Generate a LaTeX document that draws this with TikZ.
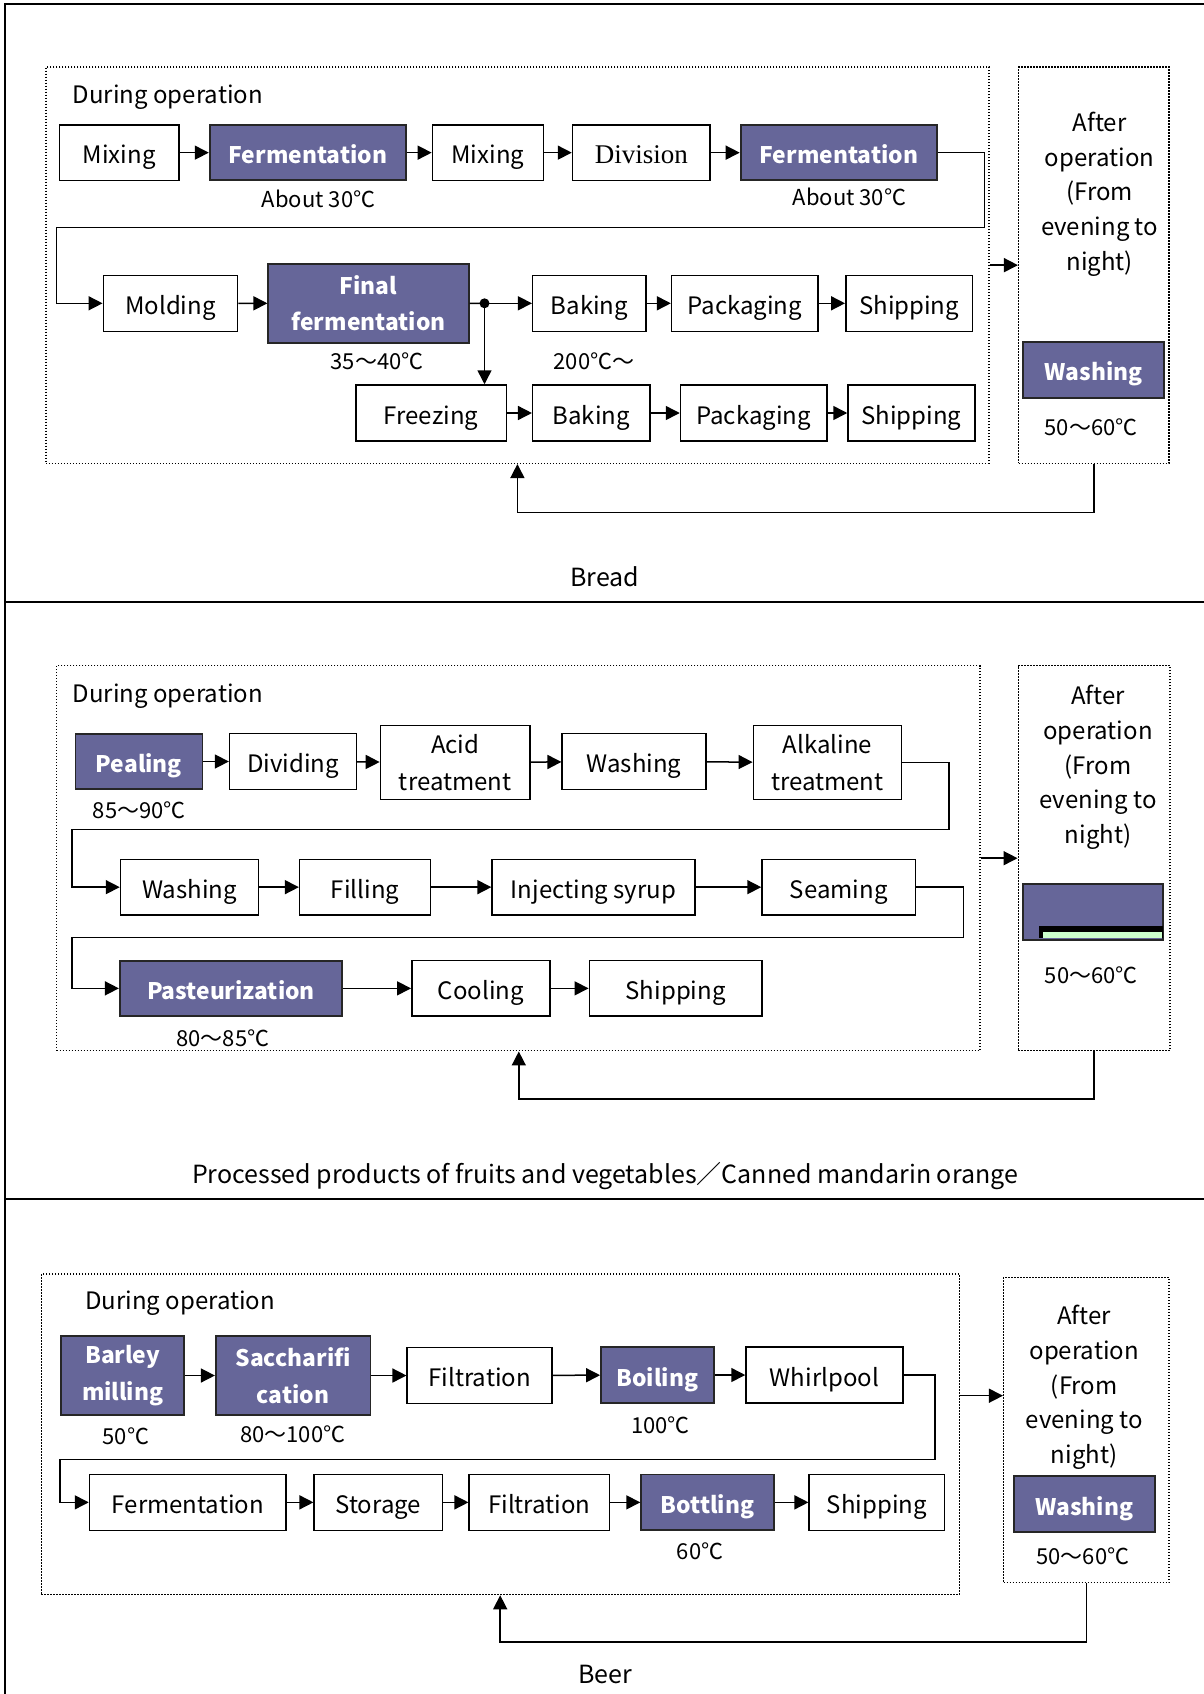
\documentclass[tikz,border=0pt]{standalone}
\usepackage{fontspec}
\setmainfont{Noto Sans CJK JP}
\newfontfamily\divfont{Liberation Serif}
\usetikzlibrary{arrows.meta}
\definecolor{hotc}{RGB}{102,102,153}
\definecolor{mint}{RGB}{204,255,204}
\newcommand{\bx}[7][]{%
  \pgfmathsetmacro\bxcx{(#3+#5)/2}%
  \pgfmathsetmacro\bxcy{(#4+#6)/2}%
  \pgfmathsetmacro\bxw{#5-#3}%
  \pgfmathsetmacro\bxh{#6-#4}%
  \node[box,one,#1,minimum width=\bxw pt,minimum height=\bxh pt] (#2) at (\bxcx,\bxcy) {#7};}
\tikzset{
  box/.style={draw=black, line width=1.5pt, inner sep=0pt, align=center, font=\fontsize{24}{36.5}\selectfont},
  one/.style={text height=22pt, text depth=0pt},
  two/.style={text height={}, text depth={}},
  hot/.style={fill=hotc, draw=black!85, line width=1.8pt, text=white, font=\bfseries\fontsize{22.8}{36.5}\selectfont},
  dotbox/.style={draw=black, line width=1.5pt, dash pattern=on 1.5pt off 1.5pt},
  lbl/.style={inner sep=0pt, font=\fontsize{22}{26}\selectfont},
  ttl/.style={inner sep=0pt, font=\fontsize{24}{28}\selectfont},
  sectitle/.style={inner sep=0pt, font=\fontsize{25}{28}\selectfont},
  afttxt/.style={inner sep=0pt, align=center, font=\fontsize{24}{34.7}\selectfont},
  arr/.style={line width=1.5pt, -{Triangle[length=14pt,width=14pt]}},
  conn/.style={line width=1.5pt},
  frame/.style={line width=2pt}
}
\begin{document}
\begin{tikzpicture}[x=1pt,y=-1pt]
\useasboundingbox[fill=white] (0,0) rectangle (1204,1694);
% frame
\draw[frame] (1204,4) -- (5,4) -- (5,1694);
\draw[frame] (5,602) -- (1204,602);
\draw[frame] (5,1199) -- (1204,1199);

% ================= Bread =================
\bx[dotbox]{dur1}{45.9}{67}{989}{463.3}{}
\bx[dotbox]{aft1}{1018.7}{67}{1169}{463.3}{}
\node[ttl,anchor=west] (do1) at (72.7,97) {During operation};
\bx{m1}{59.3}{125}{179.1}{180.3}{Mixing}
\bx[hot]{fe1}{209.7}{125}{406}{180.3}{Fermentation}
\bx{m2}{432.4}{125}{543.4}{180.3}{Mixing}
\bx{dv}{572.5}{125}{710.2}{180.3}{\divfont\fontsize{27}{30}\selectfont Division}
\bx[hot]{fe2}{740.6}{125}{937.1}{180.3}{Fermentation}
\bx{mo}{103.3}{275.3}{237.6}{331.3}{Molding}
\bx[hot,two]{ff}{268.3}{264}{468.8}{342.7}{Final\\fermentation}
\bx{bk1}{532.7}{275.3}{646.2}{331.3}{Baking}
\bx{pk1}{671.6}{275.3}{818}{331.3}{Packaging}
\bx{sh1}{845.8}{275.3}{972.5}{331.3}{Shipping}
\bx{fz}{355.9}{385}{506.3}{441}{Freezing}
\bx{bk2}{532.7}{385}{650}{441}{Baking}
\bx{pk2}{680.5}{385}{826.9}{441}{Packaging}
\bx{sh2}{848}{385}{974.8}{441}{Shipping}
\bx[hot]{wa1}{1023}{341.7}{1164}{397.7}{Washing}
\node[lbl] (t1) at (318.6,199) {About 30℃};
\node[lbl] (t2) at (849.4,197) {About 30℃};
\node[lbl] (t3) at (377,361) {35～40℃};
\node[lbl] (t4) at (594,361) {200℃～};
\node[lbl] (t5) at (1091,427) {50～60℃};
\node[afttxt] (a1) at (1099.6,194) {After\\operation\\(From\\evening to\\night)};
\node[sectitle] (c1) at (605,577) {Bread};
\draw[arr] (m1) -- (fe1);
\draw[arr] (fe1) -- (m2);
\draw[arr] (m2) -- (dv);
\draw[arr] (dv) -- (fe2);
\draw[arr] (fe2.east) -| (984.4,227.7) -- (56.3,227.7) |- (mo.west);
\draw[arr] (mo) -- (ff);
\coordinate (sp) at (484.5,303.3);
\draw[conn] (ff.east) -- (sp);
\fill (sp) circle (5);
\draw[arr] (sp) -- (bk1.west);
\draw[arr] (sp) -- (sp |- fz.north);
\draw[arr] (bk1) -- (pk1);
\draw[arr] (pk1) -- (sh1);
\draw[arr] (fz) -- (bk2);
\draw[arr] (bk2) -- (pk2);
\draw[arr] (pk2) -- (sh2);
\draw[arr] (dur1) -- (aft1);
\coordinate (fb1) at (517.4,512.3);
\draw[arr] (aft1.south) |- (fb1) -- (fb1 |- dur1.south);

% ================= Canned mandarin =================
\bx[dotbox]{dur2}{56.6}{665.7}{980}{1050.7}{}
\bx[dotbox]{aft2}{1018.3}{665.7}{1170}{1050.7}{}
\node[ttl,anchor=west] (do2) at (72.7,696) {During operation};
\bx[hot]{pe}{75.4}{733.7}{202.4}{789.3}{Pealing}
\bx{di}{229.6}{733.7}{356.3}{789.3}{Dividing}
\bx[two]{ac}{380.4}{725.5}{530}{799.5}{Acid\\treatment}
\bx{wa2}{562.2}{733.7}{705.8}{789.3}{Washing}
\bx[two]{al}{753.3}{725.5}{901.4}{799.5}{Alkaline\\treatment}
\bx{wa3}{120.5}{859.3}{258.3}{915}{Washing}
\bx{fi}{299.6}{859.3}{430.5}{915}{Filling}
\bx{inj}{492.1}{859.3}{695}{915}{Injecting syrup}
\bx{se}{762}{859.3}{915.7}{915}{Seaming}
\bx[hot]{pa}{119.8}{960.7}{342.1}{1016}{Pasteurization}
\bx{co}{411.8}{960.7}{549.9}{1016}{Cooling}
\bx{sh3}{589.3}{960.7}{762}{1016}{Shipping}
\bx[hot]{wb}{1023.3}{884.3}{1163.3}{940.3}{}
\fill[black] (1039,926) rectangle (1163.3,938.3);
\fill[mint] (1042.7,932) rectangle (1162.3,938.3);
\node[lbl] (t6) at (139.3,810) {85～90℃};
\node[lbl] (t7) at (222.9,1038) {80～85℃};
\node[lbl] (t8) at (1091.3,975) {50～60℃};
\node[afttxt] (a2) at (1098,767.5) {After\\operation\\(From\\evening to\\night)};
\node[sectitle] (c2) at (605,1176) {Processed products of fruits and vegetables／Canned mandarin orange};
\draw[arr] (pe) -- (di);
\draw[arr] (di) -- (ac);
\draw[arr] (ac) -- (wa2);
\draw[arr] (wa2) -- (al);
\draw[arr] (al.east) -| (949,829.3) -- (71.9,829.3) |- (wa3.west);
\draw[arr] (wa3) -- (fi);
\draw[arr] (fi) -- (inj);
\draw[arr] (inj) -- (se);
\draw[arr] (se.east) -| (963.7,937.7) -- (71.9,937.7) |- (pa.west);
\draw[arr] (pa) -- (co);
\draw[arr] (co) -- (sh3);
\draw[arr] (dur2) -- (aft2);
\coordinate (fb2) at (518.8,1099.2);
\draw[arr] (aft2.south) |- (fb2) -- (fb2 |- dur2.south);

% ================= Beer =================
\bx[dotbox]{dur3}{41.3}{1273.9}{959.4}{1594.5}{}
\bx[dotbox]{aft3}{1003.7}{1277.3}{1169}{1582.7}{}
\node[ttl,anchor=west] (do3) at (85,1303.5) {During operation};
\bx[hot,two]{bm}{61.2}{1336}{184.1}{1415}{Barley\\milling}
\bx[hot,two]{sa}{215.8}{1336}{370.4}{1415}{Saccharifi\\cation}
\bx{ft1}{407.2}{1347.5}{552.2}{1403.5}{Filtration}
\bx[hot]{bo}{601}{1347}{713.6}{1403}{Boiling}
\bx{wh}{746}{1347}{902.8}{1403}{Whirlpool}
\bx{fm}{89.5}{1474.4}{286.2}{1530.3}{Fermentation}
\bx{st}{314.2}{1474.4}{442.4}{1530.3}{Storage}
\bx{ft2}{469.2}{1474.4}{609.6}{1530.3}{Filtration}
\bx[hot]{bt}{641.2}{1474.4}{774.1}{1530.3}{Bottling}
\bx{sh4}{809.2}{1474.4}{944.4}{1530.3}{Shipping}
\bx[hot]{wa4}{1013.7}{1476.2}{1154.7}{1532}{Washing}
\node[lbl] (t9) at (125.9,1436.6) {50℃};
\node[lbl] (t10) at (292.7,1433.8) {80～100℃};
\node[lbl] (t11) at (660.5,1424.8) {100℃};
\node[lbl] (t12) at (700.2,1550.8) {60℃};
\node[lbl] (t13) at (1082.8,1556.7) {50～60℃};
\node[afttxt] (a3) at (1084.2,1387.5) {After\\operation\\(From\\evening to\\night)};
\node[sectitle] (c3) at (605,1674) {Beer};
\draw[arr] (bm) -- (sa);
\draw[arr] (sa) -- (ft1);
\draw[arr] (ft1) -- (bo);
\draw[arr] (bo) -- (wh);
\draw[arr] (wh.east) -| (935.1,1459.5) -- (60.1,1459.5) |- (fm.west);
\draw[arr] (fm) -- (st);
\draw[arr] (st) -- (ft2);
\draw[arr] (ft2) -- (bt);
\draw[arr] (bt) -- (sh4);
\coordinate (y3) at (0,1395.7);
\draw[arr] (dur3.east |- y3) -- (aft3.west |- y3);
\coordinate (fb3) at (500.2,1642);
\draw[arr] (aft3.south) |- (fb3) -- (fb3 |- dur3.south);
\end{tikzpicture}
\end{document}
